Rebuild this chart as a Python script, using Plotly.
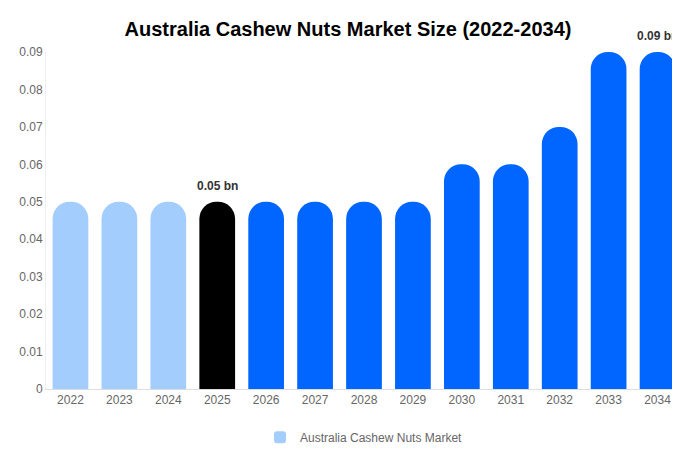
import plotly.graph_objects as go

years = list(range(2022, 2035))
values = [0.05, 0.05, 0.05, 0.05, 0.05, 0.05, 0.05, 0.05, 0.06, 0.06, 0.07, 0.09, 0.09]
colors = ['#a3cdfd'] * 3 + ['#000000'] + ['#0066ff'] * 9

fig = go.Figure()
fig.add_trace(go.Bar(
    x=years, y=values, marker=dict(color=colors, line=dict(width=0)),
    name='Australia Cashew Nuts Market', showlegend=True, width=0.73
))

for yr, lab in [(2025, '0.05 bn'), (2034, '0.09 bn')]:
    v = values[years.index(yr)]
    fig.add_annotation(x=yr, y=v, text=f'<b>{lab}</b>', showarrow=False,
                       yshift=16, font=dict(size=12, color='#333'))

fig.update_layout(
    width=680, height=450,
    title=dict(text='<b>Australia Cashew Nuts Market Size (2022-2034)</b>', x=0.5, y=0.97,
               font=dict(size=20, color='#000', family='Liberation Sans, Arial')),
    font=dict(family='Liberation Sans, Arial', size=12, color='#666'),
    plot_bgcolor='white', paper_bgcolor='white',
    margin=dict(l=38, r=6, t=44, b=60),
    barcornerradius=18,
    xaxis=dict(showline=True, linecolor='#ddd', ticks='', tickmode='linear', dtick=1,
               range=[2021.5, 2034.5]),
    yaxis=dict(range=[0, 0.09], dtick=0.01, showgrid=False, showline=True,
               linecolor='#eee', zeroline=False),
    legend=dict(orientation='h', x=0.5, xanchor='center', y=-0.1, yanchor='top',
                font=dict(color='#666')),
)

fig.write_html('out.html')
